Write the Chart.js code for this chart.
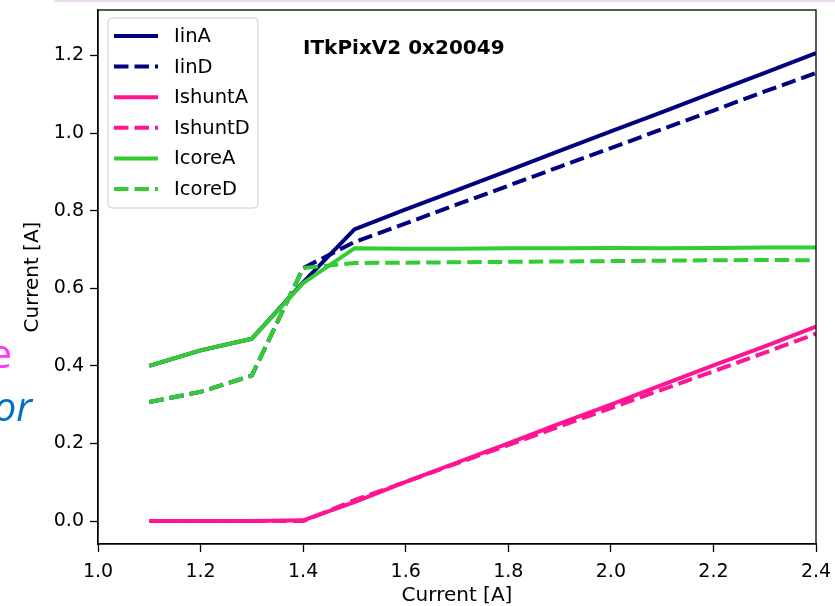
<!DOCTYPE html>
<html>
<head>
<meta charset="utf-8">
<script src="https://cdn.jsdelivr.net/npm/chart.js@4.4.1/dist/chart.umd.min.js"></script>
<style>
  body { margin: 0; background: #fff; }
  #wrap { position: relative; width: 835px; height: 606px; overflow: hidden; background: #fff; }
  #c { position: absolute; left: 0; top: 0; }
  .topline { position: absolute; left: 54px; right: 0; top: 0; height: 2px; background: #eedaf2; }
  .frag { position: absolute; font-family: "Open Sans", sans-serif; font-size: 40px; line-height: 1; white-space: nowrap; }
  .frag.e { right: 823px; top: 333px; color: #ff33ff; }
  .frag.or { right: 803px; top: 386px; color: #0070c0; font-style: italic; }
</style>
</head>
<body>
<div id="wrap">
  <canvas id="c" width="835" height="606"></canvas>
  <div class="topline"></div>
  <span class="frag e">e</span>
  <span class="frag or">or</span>
</div>
<script>
// x values (input current) and measured currents
const currents = [1.1, 1.2, 1.3, 1.4, 1.5, 1.6, 1.7, 1.8, 1.9, 2.0, 2.1, 2.2, 2.3, 2.4];
const iinA    = [0.400, 0.440, 0.470, 0.615, 0.752, 0.803, 0.853, 0.903, 0.954, 1.004, 1.054, 1.105, 1.155, 1.206];
const iinD    = [0.307, 0.333, 0.375, 0.652, 0.719, 0.767, 0.816, 0.864, 0.913, 0.961, 1.010, 1.058, 1.107, 1.155];
const ishuntA = [0.000, 0.000, 0.000, 0.002, 0.049, 0.101, 0.151, 0.200, 0.251, 0.300, 0.351, 0.401, 0.450, 0.501];
const ishuntD = [0.000, 0.000, 0.000, 0.000, 0.054, 0.101, 0.149, 0.196, 0.244, 0.291, 0.339, 0.386, 0.434, 0.483];
const icoreA  = [0.400, 0.440, 0.470, 0.613, 0.703, 0.702, 0.702, 0.703, 0.703, 0.704, 0.703, 0.704, 0.705, 0.705];
const icoreD  = [0.307, 0.333, 0.375, 0.652, 0.665, 0.666, 0.667, 0.668, 0.669, 0.670, 0.671, 0.672, 0.673, 0.672];

const seriesNames = ['IinA', 'IinD', 'IshuntA', 'IshuntD', 'IcoreA', 'IcoreD'];
const seriesValues = [iinA, iinD, ishuntA, ishuntD, icoreA, icoreD];

const xTicks = [1.0, 1.2, 1.4, 1.6, 1.8, 2.0, 2.2, 2.4];
const yTicks = [0.0, 0.2, 0.4, 0.6, 0.8, 1.0, 1.2];
const titleText = 'ITkPixV2 0x20049';

const colors = ['#000080', '#000080', '#ff1493', '#ff1493', '#32cd32', '#32cd32'];
const DASH = [14.5, 6];
const LW = 4;
const FONT = '"DejaVu Sans", sans-serif';

const datasets = seriesNames.map((name, k) => ({
    label: name,
    data: currents.map((x, i) => ({ x: x, y: seriesValues[k][i] })),
    borderColor: colors[k],
    backgroundColor: colors[k],
    borderWidth: LW,
    borderDash: k % 2 ? DASH : [],
    borderJoinStyle: 'round',
    pointRadius: 0,
    tension: 0,
    fill: false,
    order: seriesNames.length - k   // later series on top, like matplotlib
}));

// frame, title and the in-axes legend
const decor = {
    id: 'decor',
    afterDraw(chart) {
        const ctx = chart.ctx;
        const a = chart.chartArea;
        ctx.save();
        ctx.strokeStyle = '#000';
        ctx.lineWidth = 1.3;
        ctx.strokeRect(a.left, a.top, a.right - a.left, a.bottom - a.top);

        ctx.fillStyle = '#000';
        ctx.font = 'bold 20px ' + FONT;
        ctx.textBaseline = 'middle';
        ctx.textAlign = 'left';
        ctx.fillText(titleText, a.left + 205, a.top + 39);

        // legend box
        const bx = a.left + 10, by = a.top + 8, bw = 150, bh = 190, r = 4;
        ctx.beginPath();
        ctx.moveTo(bx + r, by);
        ctx.arcTo(bx + bw, by, bx + bw, by + bh, r);
        ctx.arcTo(bx + bw, by + bh, bx, by + bh, r);
        ctx.arcTo(bx, by + bh, bx, by, r);
        ctx.arcTo(bx, by, bx + bw, by, r);
        ctx.closePath();
        ctx.fillStyle = 'rgba(255,255,255,0.8)';
        ctx.fill();
        ctx.strokeStyle = '#cccccc';
        ctx.lineWidth = 1;
        ctx.stroke();

        ctx.font = '19.5px ' + FONT;
        chart.data.datasets.forEach((ds, i) => {
            const y = by + 18 + i * 30.6;
            ctx.beginPath();
            ctx.setLineDash(ds.borderDash);
            ctx.strokeStyle = ds.borderColor;
            ctx.lineWidth = LW;
            ctx.moveTo(bx + 6, y);
            ctx.lineTo(bx + 50, y);
            ctx.stroke();
            ctx.setLineDash([]);
            ctx.fillStyle = '#000';
            ctx.fillText(ds.label, bx + 66, y + 1);
        });
        ctx.restore();
    }
};

new Chart(document.getElementById('c'), {
    type: 'line',
    data: { datasets: datasets },
    options: {
        responsive: false,
        animation: false,
        devicePixelRatio: 1,
        layout: { padding: { top: 10, right: 19, left: 0, bottom: 0 } },
        plugins: { legend: { display: false }, tooltip: { enabled: false } },
        scales: {
            x: {
                type: 'linear',
                min: 1.0,
                max: 2.4,
                afterBuildTicks: s => { s.ticks = xTicks.map(v => ({ value: v })); },
                afterFit: s => { s.height = 62; s.paddingLeft = 0; s.paddingRight = 0; },
                ticks: {
                    color: '#000',
                    font: { family: FONT, size: 19 },
                    padding: 9,
                    maxRotation: 0,
                    callback: v => v.toFixed(1)
                },
                grid: { drawOnChartArea: false, tickLength: 8, tickWidth: 1.3, color: '#000' },
                border: { color: '#000', width: 1.3 },
                title: {
                    display: true,
                    text: 'Current [A]',
                    color: '#000',
                    font: { family: FONT, size: 20, lineHeight: 1 },
                    padding: { top: 0, bottom: 0 }
                }
            },
            y: {
                type: 'linear',
                min: -0.059,
                max: 1.317,
                afterBuildTicks: s => { s.ticks = yTicks.map(v => ({ value: v })); },
                afterFit: s => { s.width = 98; s.paddingTop = 0; s.paddingBottom = 0; },
                ticks: {
                    color: '#000',
                    font: { family: FONT, size: 19 },
                    padding: 6,
                    callback: v => v.toFixed(1)
                },
                grid: { drawOnChartArea: false, tickLength: 8, tickWidth: 1.3, color: '#000' },
                border: { color: '#000', width: 1.3 },
                title: {
                    display: true,
                    text: 'Current [A]',
                    color: '#000',
                    font: { family: FONT, size: 20, lineHeight: 1 },
                    padding: { top: 23, bottom: 0 }
                }
            }
        }
    },
    plugins: [decor]
});
</script>
</body>
</html>
